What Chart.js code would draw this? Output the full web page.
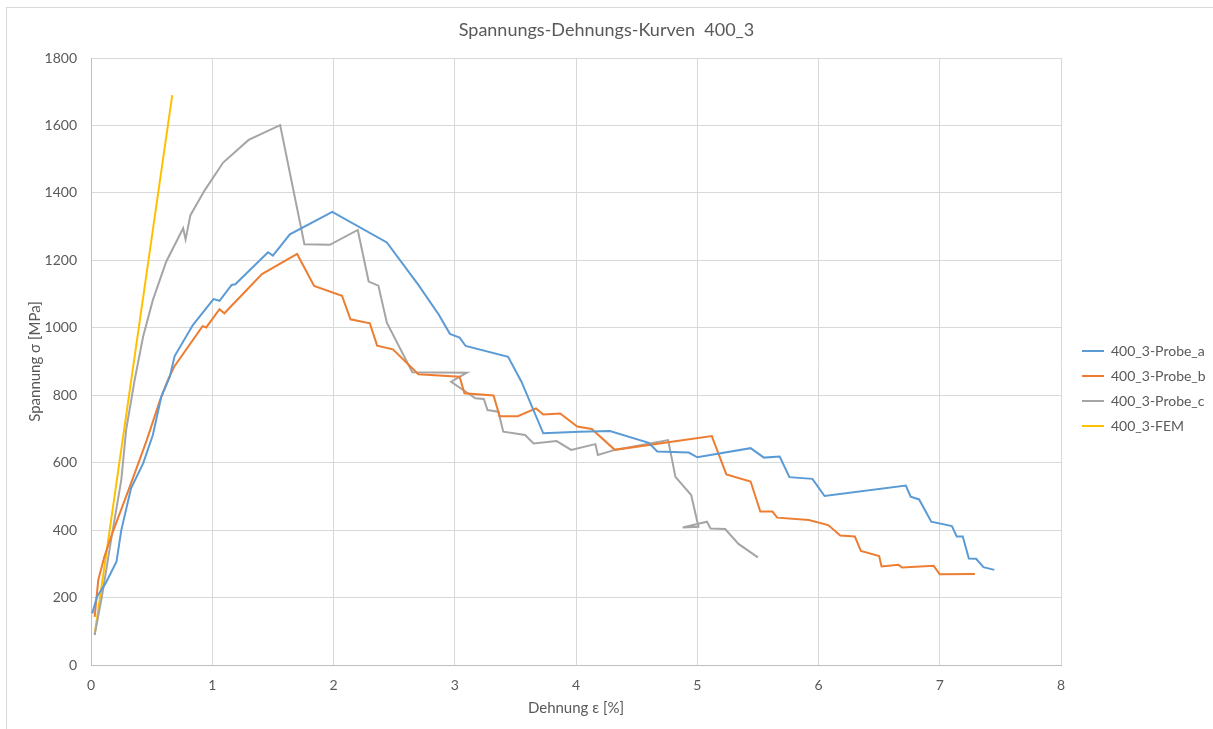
<!DOCTYPE html>
<html>
<head>
<meta charset="utf-8">
<script src="https://cdn.jsdelivr.net/npm/chart.js@4"></script>
<style>
  html, body { margin: 0; padding: 0; background: #fff; }
  #wrap { width: 1213px; height: 729px; position: relative; }
</style>
</head>
<body>
<div id="wrap"><canvas id="chart" width="1213" height="729"></canvas></div>
<script>
// values
const labels = ['400_3-Probe_a', '400_3-Probe_b', '400_3-Probe_c', '400_3-FEM'];
const xTicks = [0, 1, 2, 3, 4, 5, 6, 7, 8];
const yTicks = [0, 200, 400, 600, 800, 1000, 1200, 1400, 1600, 1800];

const probeA_x = [0.01,0.05,0.12,0.21,0.25,0.33,0.43,0.51,0.58,0.65,0.69,0.84,1.01,1.06,1.16,1.19,1.46,1.50,1.64,1.99,2.44,2.70,2.87,2.96,3.04,3.09,3.44,3.55,3.73,4.03,4.28,4.60,4.67,4.93,5.00,5.44,5.55,5.68,5.76,5.95,6.05,6.72,6.76,6.83,6.93,7.10,7.14,7.19,7.24,7.30,7.36,7.45];
const probeA_y = [153,203,242,306,400,524,598,682,796,855,916,1008,1085,1080,1127,1129,1224,1214,1277,1344,1253,1127,1038,982,971,946,914,840,687,692,694,659,633,630,616,643,615,618,557,552,501,532,499,491,425,412,381,381,316,315,290,282];

const probeB_x = [0.03,0.06,0.11,0.18,0.32,0.46,0.57,0.64,0.69,0.92,0.95,1.06,1.10,1.41,1.70,1.84,2.07,2.14,2.30,2.36,2.49,2.70,3.04,3.08,3.32,3.37,3.52,3.67,3.73,3.87,4.01,4.13,4.32,5.12,5.24,5.44,5.52,5.62,5.66,5.92,6.08,6.18,6.30,6.35,6.50,6.52,6.66,6.69,6.95,7.00,7.29];
const probeB_y = [143,252,321,395,529,667,786,850,887,1005,1001,1055,1043,1159,1219,1124,1095,1025,1013,947,936,862,855,806,799,738,738,761,743,746,707,700,638,679,565,544,455,455,437,430,415,384,381,338,323,292,297,289,294,269,270];

const probeC_x = [0.03,0.09,0.17,0.25,0.29,0.36,0.43,0.51,0.62,0.76,0.78,0.82,0.94,1.09,1.30,1.56,1.76,1.97,2.20,2.29,2.37,2.44,2.65,3.10,2.97,3.17,3.24,3.27,3.36,3.40,3.58,3.65,3.84,3.96,4.16,4.18,4.32,4.76,4.82,4.95,5.01,4.88,5.08,5.11,5.23,5.34,5.50];
const probeC_y = [89,203,380,549,697,845,974,1082,1196,1295,1262,1334,1409,1490,1557,1601,1248,1246,1290,1137,1125,1015,868,867,840,791,789,756,751,692,682,657,664,638,655,623,638,667,558,504,410,408,425,405,403,359,319];

const fem_x = [0.03, 0.67];
const fem_y = [90, 1690];

const colors = ['#5B9BD5', '#ED7D31', '#A5A5A5', '#FFC000'];
const textColor = '#595959';

function toPoints(xs, ys) {
    return xs.map((x, i) => ({ x: x, y: ys[i] }));
}

const series = [
    toPoints(probeA_x, probeA_y),
    toPoints(probeB_x, probeB_y),
    toPoints(probeC_x, probeC_y),
    toPoints(fem_x, fem_y)
];

// light frame like the Excel chart area, and legend nudged into place
const framePlugin = {
    id: 'frame',
    afterInit(chart) {
        const lg = chart.legend;
        const fit = lg.fit.bind(lg);
        lg.fit = function () { fit(); this.width = 152; };
        const draw = lg.draw.bind(lg);
        lg.draw = function () {
            const c = this.ctx;
            c.save();
            c.translate(10, 24);
            draw();
            c.restore();
        };
    },
    beforeDraw(chart) {
        const c = chart.ctx;
        c.save();
        c.strokeStyle = '#d9d9d9';
        c.lineWidth = 1;
        c.strokeRect(6.5, 7.5, 1300, 800);
        c.restore();
    }
};

const ctx = document.getElementById('chart').getContext('2d');
new Chart(ctx, {
    type: 'scatter',
    data: {
        datasets: series.map((pts, i) => ({
            label: labels[i],
            data: pts,
            showLine: true,
            borderColor: colors[i],
            backgroundColor: colors[i],
            borderWidth: 2,
            pointRadius: 0,
            tension: 0
        }))
    },
    options: {
        responsive: false,
        animation: false,
        layout: { padding: 0 },
        font: { family: 'Lato' },
        scales: {
            x: {
                type: 'linear',
                min: 0,
                max: 8,
                afterFit(scale) { scale.height = 64; },
                afterBuildTicks(scale) { scale.ticks = xTicks.map(v => ({ value: v })); },
                grid: { color: '#d9d9d9', drawTicks: false },
                border: { color: '#bfbfbf', width: 1 },
                ticks: { color: textColor, padding: 12, font: { family: 'Lato', size: 14 }, callback: v => String(v) },
                title: {
                    display: true,
                    text: 'Dehnung ε [%]',
                    color: textColor,
                    font: { family: 'Lato', size: 15 },
                    padding: { top: 0, bottom: 12 }
                }
            },
            y: {
                min: 0,
                max: 1800,
                afterFit(scale) { scale.width = 91; },
                afterBuildTicks(scale) { scale.ticks = yTicks.map(v => ({ value: v })); },
                grid: { color: '#d9d9d9', drawTicks: false },
                border: { color: '#bfbfbf', width: 1 },
                ticks: { color: textColor, padding: 14, font: { family: 'Lato', size: 14 }, callback: v => String(v) },
                title: {
                    display: true,
                    text: 'Spannung σ [MPa]',
                    color: textColor,
                    font: { family: 'Lato', size: 15 },
                    padding: { top: 26, bottom: 0 }
                }
            }
        },
        plugins: {
            title: {
                display: true,
                text: 'Spannungs-Dehnungs-Kurven  400_3',
                color: textColor,
                font: { family: 'Lato', size: 18, weight: 'normal' },
                padding: { top: 19, bottom: 17.4 }
            },
            legend: {
                position: 'right',
                labels: {
                    color: textColor,
                    font: { family: 'Lato', size: 14 },
                    usePointStyle: true,
                    pointStyle: 'line',
                    pointStyleWidth: 22,
                    padding: 11
                }
            },
            tooltip: { enabled: false }
        }
    },
    plugins: [framePlugin]
});
</script>
</body>
</html>
